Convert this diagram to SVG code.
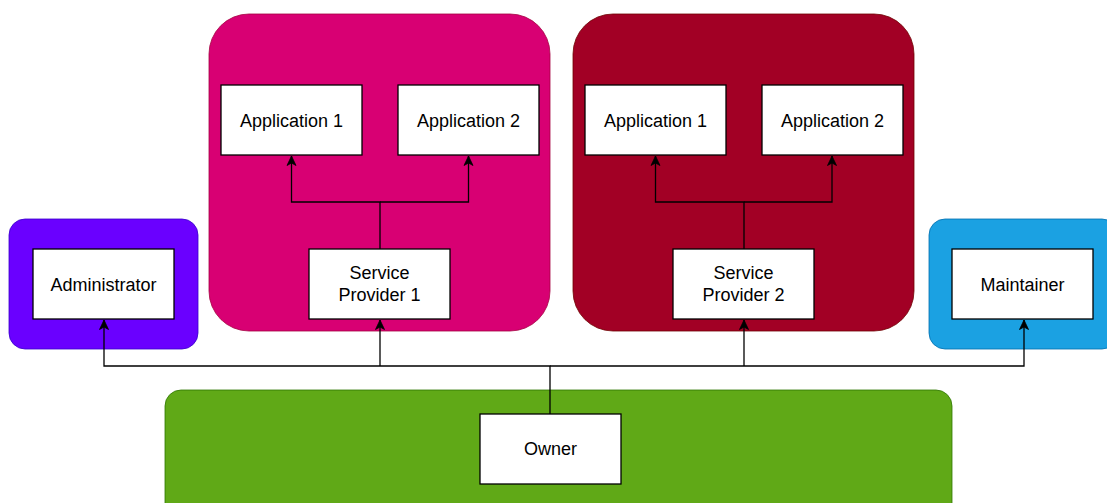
<svg xmlns="http://www.w3.org/2000/svg" width="1107" height="503" viewBox="0 0 1107 503">
<style>
.box{fill:#ffffff;stroke:#000000;stroke-width:1.3}
.lbl{font-family:"Liberation Sans",Arial,Helvetica,sans-serif;font-size:18px;fill:#000000;text-anchor:middle}
.edge{fill:none;stroke:#000000;stroke-width:1.3}
</style>
<defs>
<marker id="arr" markerUnits="userSpaceOnUse" markerWidth="12" markerHeight="12" refX="10" refY="5" orient="auto" viewBox="0 0 12 10">
<path d="M0.5,0.5 L10,5 L0.5,9.5 L3,5 Z" fill="#000000" stroke="#000000" stroke-width="0.8"/>
</marker>
</defs>
<rect width="1107" height="503" fill="#ffffff"/>
<g id="admin-group">
<rect x="9" y="219" width="189" height="130" rx="16" fill="#6a00ff" stroke="#3700cc" stroke-width="0.8"/>
</g>
<g id="maintainer-group">
<rect x="929" y="219" width="189" height="130" rx="16" fill="#1ba1e2" stroke="#006eaf" stroke-width="0.8"/>
</g>
<g id="sp1-group">
<rect x="209" y="14" width="341" height="317" rx="40" fill="#d80073" stroke="#a50040" stroke-width="0.8"/>
</g>
<g id="sp2-group">
<rect x="573" y="14" width="341" height="317" rx="40" fill="#a20025" stroke="#6f0000" stroke-width="0.8"/>
</g>
<g id="owner-group">
<rect x="165" y="390" width="787" height="150" rx="16" fill="#60a917" stroke="#2d7600" stroke-width="0.8"/>
</g>
<g id="connectors">
<path class="edge" d="M380,249 V202 H291.5 V156" marker-end="url(#arr)"/>
<path class="edge" d="M380,202 H468.5 V156" marker-end="url(#arr)"/>
<path class="edge" d="M744,249 V202 H655.5 V156" marker-end="url(#arr)"/>
<path class="edge" d="M744,202 H832 V156" marker-end="url(#arr)"/>
<path class="edge" d="M550,414 V366 H104 V320" marker-end="url(#arr)"/>
<path class="edge" d="M380,366 V320" marker-end="url(#arr)"/>
<path class="edge" d="M550,366 H1024 V320" marker-end="url(#arr)"/>
<path class="edge" d="M744,366 V320" marker-end="url(#arr)"/>
</g>
<g id="administrator">
<rect class="box" x="33" y="249" width="141" height="70"/>
<text class="lbl" x="103.5" y="290.5">Administrator</text>
</g>
<g id="maintainer">
<rect class="box" x="952" y="249" width="141" height="70"/>
<text class="lbl" x="1022.5" y="290.5">Maintainer</text>
</g>
<g id="sp1-app1">
<rect class="box" x="221" y="85" width="141" height="70"/>
<text class="lbl" x="291.5" y="126.5">Application 1</text>
</g>
<g id="sp1-app2">
<rect class="box" x="398" y="85" width="141" height="70"/>
<text class="lbl" x="468.5" y="126.5">Application 2</text>
</g>
<g id="service-provider-1">
<rect class="box" x="309" y="249" width="141" height="70"/>
<text class="lbl" x="379.5" y="278.5">Service</text>
<text class="lbl" x="379.5" y="301">Provider 1</text>
</g>
<g id="sp2-app1">
<rect class="box" x="585" y="85" width="141" height="70"/>
<text class="lbl" x="655.5" y="126.5">Application 1</text>
</g>
<g id="sp2-app2">
<rect class="box" x="762" y="85" width="141" height="70"/>
<text class="lbl" x="832.5" y="126.5">Application 2</text>
</g>
<g id="service-provider-2">
<rect class="box" x="673" y="249" width="141" height="70"/>
<text class="lbl" x="743.5" y="278.5">Service</text>
<text class="lbl" x="743.5" y="301">Provider 2</text>
</g>
<g id="owner">
<rect class="box" x="480" y="414" width="141" height="70"/>
<text class="lbl" x="550.5" y="455">Owner</text>
</g>
</svg>
